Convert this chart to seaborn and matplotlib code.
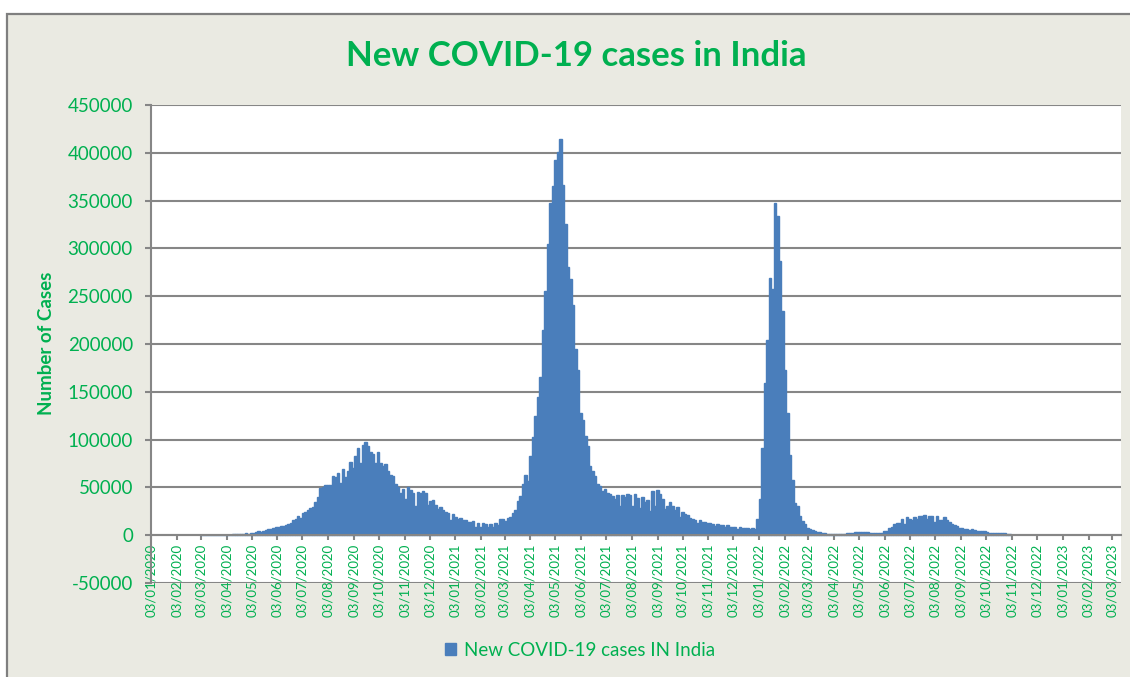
import matplotlib
matplotlib.use("Agg")
import matplotlib.pyplot as plt
from matplotlib.patches import Patch, Rectangle
import numpy as np
import pandas as pd
import seaborn as sns

# new cases (thousands), one bar every 3 days
cases_2020 = [
    0, 0, 0.01, 0.01, 0.02, 0.02, 0.05, 0.1, 0.09, 0.11,                    # Mar
    0.43, 0.6, 0.57, 0.9, 0.8, 1.06, 1.33, 1.49, 1.84, 1.59,                # Apr
    1.99, 2.57, 3.56, 4.21, 3.52, 3.97, 5.61, 6.09, 6.98, 7.47, 8.38,       # May
    8.9, 9.9, 9.99, 10.96, 11.5, 12.9, 15.4, 16.9, 19.9, 18.5,              # Jun
    22.7, 24.2, 26.5, 28.7, 29.4, 34.9, 40.4, 48.9, 49.9, 52.1,             # Jul
    52.9, 52.5, 61.5, 60.9, 64.6, 55.1, 69.7, 61.4, 67.2, 76.5,             # Aug
    69.9, 83.3, 90.8, 75.8, 94.4, 97.9, 93.3, 86.9, 85.4, 75.1,             # Sep
    86.8, 75.8, 72.0, 74.4, 66.7, 63.4, 61.9, 54.0, 50.1, 43.9, 48.3,       # Oct
    38.3, 50.4, 47.6, 44.3, 30.5, 45.6, 44.1, 46.2, 44.5, 31.1,             # Nov
    35.5, 36.7, 31.5, 27.1, 30.0, 26.4, 24.3, 23.0, 16.4, 21.8,             # Dec
]
cases_2021 = [
    19.1, 16.5, 18.1, 16.3, 15.6, 13.8, 13.8, 14.8, 9.1, 13.1,              # Jan
    8.6, 12.9, 12.1, 9.1, 12.1, 9.1, 13.2, 10.6, 16.6, 16.8,                # Feb
    14.9, 18.3, 18.7, 22.9, 26.3, 35.9, 40.9, 53.5, 62.7, 56.2,             # Mar
    83, 103, 125, 145, 166, 215, 255, 305, 347, 365,                        # Apr
    392, 401, 414, 366, 326, 281, 268, 241, 195, 173,                       # May
    128, 120, 104, 93, 72, 67, 62, 54, 51, 46,                              # Jun
    48.8, 44.1, 43.4, 41.5, 38.1, 41.8, 30.1, 42.0, 39.7, 43.5, 41.6,       # Jul
    30.5, 42.9, 39.1, 28.2, 40.1, 35.2, 36.6, 25.5, 46.2, 30.9,             # Aug
    47.1, 42.6, 38.0, 27.3, 30.6, 34.4, 30.8, 26.1, 29.6, 18.8,             # Sep
    24.4, 22.4, 21.3, 18.1, 16.9, 15.9, 13.1, 15.8, 14.3, 14.3,             # Oct
    12.5, 12.9, 11.9, 10.1, 11.3, 10.5, 10.3, 9.1, 10.5, 8.8,               # Nov
    8.9, 8.6, 6.8, 8.5, 7.4, 7.4, 7.1, 6.3, 7.2, 6.4, 16.8,                 # Dec
]
cases_2022 = [
    37.4, 90.9, 159.6, 204.0, 268.8, 258.0, 347.3, 333.5, 286.4, 234.3,     # Jan
    172.4, 127.9, 83.9, 58.1, 34.1, 30.6, 19.9, 15.1, 11.5,                 # Feb
    7.6, 6.4, 5.5, 4.6, 3.6, 2.9, 2.5, 1.8, 1.7, 1.3, 1.2,                  # Mar
    1.1, 0.9, 1.1, 0.8, 1.2, 2.1, 2.5, 2.5, 3.3, 3.4,                       # Apr
    3.2, 3.3, 3.8, 2.9, 2.8, 2.4, 2.3, 2.1, 2.7, 2.7,                       # May
    4.0, 4.5, 7.6, 8.6, 12.2, 13.2, 12.8, 17.3, 11.8, 18.8,                 # Jun
    17.1, 16.2, 18.8, 16.7, 20.1, 20.6, 21.4, 16.9, 20.3, 20.4,             # Jul
    13.7, 19.9, 16.3, 16.0, 19.4, 15.8, 13.3, 11.5, 10.3, 9.4, 7.2,         # Aug
    7.2, 6.8, 6.4, 5.1, 6.4, 5.7, 4.8, 4.8, 4.7, 3.9,                       # Sep
    3.4, 2.5, 2.8, 2.0, 2.4, 2.1, 2.1, 1.9, 1.6, 1.5,                       # Oct
]

y_ticks = [-50000, 0, 50000, 100000, 150000, 200000, 250000, 300000, 350000, 400000, 450000]

green = "#00B050"
bar_blue = "#4A7EBB"
grid_grey = "#868686"
bg = "#EAEAE2"

sns.set_style("white")
plt.rcParams["font.family"] = ["Lato", "DejaVu Sans"]
plt.rcParams["axes.unicode_minus"] = False

origin = pd.Timestamp("2020-01-03")
values = np.array(cases_2020 + cases_2021 + cases_2022) * 1000
dates = pd.date_range("2020-03-02", periods=len(values), freq="3D")
df = pd.DataFrame({"day": (dates - origin).days + 1, "cases": values})

tick_dates = pd.date_range("2020-01-01", "2023-03-01", freq="MS") + pd.Timedelta(days=2)
tick_pos = (tick_dates - origin).days
tick_labels = [d.strftime("%d/%m/%Y") for d in tick_dates]

fig = plt.figure(figsize=(11.3, 6.77), dpi=100, facecolor="white")
fig.patches.append(Rectangle((7 / 1130, -0.1), 1.2, 1 - 14 / 677 + 0.1,
                             transform=fig.transFigure, facecolor=bg,
                             edgecolor="#7F7F7F", linewidth=1.6, zorder=-10))

ax = fig.add_axes([151 / 1130, 94 / 677, 970 / 1130, 478 / 677])
sns.barplot(data=df, x="day", y="cases", native_scale=True, orient="x",
            color=bar_blue, saturation=1, width=1.0, errorbar=None,
            edgecolor=bar_blue, linewidth=1.0, ax=ax)

# category axis crosses at 0, so move the spine before setting the ticks
ax.spines["bottom"].set_position(("data", 0))
ax.spines["bottom"].set_color(grid_grey)
ax.spines["bottom"].set_linewidth(1.5)
for side in ["top", "right"]:
    ax.spines[side].set_visible(False)
ax.spines["left"].set_color(grid_grey)
ax.spines["left"].set_linewidth(1.5)

ax.set_xlim(0, 1166)
ax.set_ylim(-50000, 450000)
ax.set_yticks(y_ticks)
ax.set_yticklabels([str(t) for t in y_ticks])
ax.set_xticks(tick_pos)
ax.set_xticklabels(tick_labels)
ax.set_xlabel("")
ax.set_ylabel("")

ax.set_facecolor("white")
ax.set_axisbelow(True)
ax.grid(axis="y", color=grid_grey, linewidth=1.5)
ax.grid(axis="x", visible=False)

ax.tick_params(axis="y", colors=grid_grey, labelcolor=green, labelsize=13.5,
               length=4, width=1.5, direction="out", left=True, pad=9)
ax.tick_params(axis="x", colors=grid_grey, labelcolor=green, labelsize=9.5,
               length=3.5, width=1.5, direction="out", bottom=True, pad=2.5,
               labelrotation=90)

fig.text(576 / 1130, 1 - 56 / 677, "New COVID-19 cases in India", ha="center",
         va="center", fontsize=25, fontweight="bold", color=green)
fig.text(47 / 1130, 1 - 343 / 677, "Number of Cases", rotation=90, ha="center",
         va="center", fontsize=13.5, fontweight="bold", color=green)

fig.legend(handles=[Patch(facecolor=bar_blue, edgecolor=bar_blue,
                          label="New COVID-19 cases IN India")],
           loc="center", bbox_to_anchor=(580 / 1130, 1 - 650 / 677),
           frameon=False, fontsize=13.5, labelcolor=green,
           handlelength=0.6, handleheight=0.6, handletextpad=0.4)

fig.savefig("out.png", dpi=100, facecolor=fig.get_facecolor())
